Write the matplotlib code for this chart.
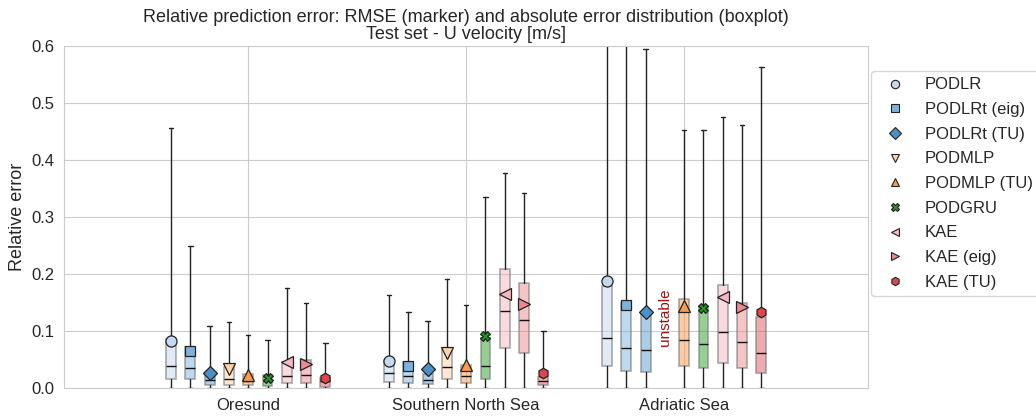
import matplotlib
matplotlib.use("Agg")
import matplotlib.pyplot as plt
from matplotlib.lines import Line2D
import seaborn as sns
import numpy as np

sns.set_style("whitegrid")
plt.rcParams['font.family'] = ['Liberation Sans', 'DejaVu Sans']

regions = ["Oresund", "Southern North Sea", "Adriatic Sea"]
models = ["PODLR", "PODLRt (eig)", "PODLRt (TU)", "PODMLP", "PODMLP (TU)",
          "PODGRU", "KAE", "KAE (eig)", "KAE (TU)"]
markers = ["o", "s", "D", "v", "^", "X", "<", ">", "h"]
marker_sizes = [8, 7.5, 7, 8, 8, 7, 8, 8, 7.5]
marker_colors = ["#c2d9ee", "#7eb2dc", "#4a8fc8", "#fdd3a8", "#fc9a4c",
                 "#1f9a1f", "#f4b7c0", "#ea8a90", "#df454c"]
box_colors = ["#c2d9ee", "#7eb2dc", "#5b9ccf", "#fdd3a8", "#fc9a4c",
              "#2ea02e", "#f4b7c0", "#ea8a90", "#df5a60"]

# per model: [Oresund, Southern North Sea, Adriatic Sea]; None = no result
whis_lo = [[0, 0, 0], [0, 0, 0], [0, 0, 0], [0, 0, None], [0, 0, 0],
           [0, 0, 0], [0, 0, 0], [0, 0, 0], [0, 0, 0]]
q1 = [[0.015, 0.011, 0.038], [0.015, 0.008, 0.030], [0.006, 0.007, 0.028],
      [0.006, 0.015, None], [0.005, 0.008, 0.038], [0.004, 0.015, 0.035],
      [0.008, 0.070, 0.043], [0.009, 0.061, 0.035], [0.002, 0.005, 0.026]]
med = [[0.038, 0.026, 0.087], [0.035, 0.021, 0.070], [0.014, 0.014, 0.066],
       [0.015, 0.036, None], [0.013, 0.021, 0.085], [0.012, 0.039, 0.078],
       [0.021, 0.136, 0.098], [0.022, 0.119, 0.080], [0.012, 0.013, 0.061]]
q3 = [[0.086, 0.050, 0.179], [0.072, 0.045, 0.150], [0.024, 0.025, 0.130],
      [0.037, 0.068, None], [0.025, 0.040, 0.157], [0.022, 0.088, 0.144],
      [0.045, 0.209, 0.180], [0.049, 0.185, 0.149], [0.017, 0.020, 0.125]]
whis_hi = [[0.457, 0.164, 0.75], [0.250, 0.133, 0.75], [0.108, 0.117, 0.595],
           [0.115, 0.192, None], [0.093, 0.146, 0.452], [0.085, 0.336, 0.453],
           [0.176, 0.377, 0.476], [0.150, 0.343, 0.462], [0.079, 0.100, 0.563]]
rmse = [[0.082, 0.048, 0.188], [0.065, 0.039, 0.146], [0.027, 0.033, 0.134],
        [0.033, 0.061, None], [0.023, 0.040, 0.144], [0.018, 0.092, 0.141],
        [0.045, 0.165, 0.159], [0.042, 0.148, 0.143], [0.018, 0.027, 0.133]]

yticks = [0.0, 0.1, 0.2, 0.3, 0.4, 0.5, 0.6]

fig = plt.figure(figsize=(10.36, 4.2), dpi=100)
ax = fig.add_axes([0.062, 0.0762, 0.776, 0.814])

step = 0.0885
bw = 0.045
nm = len(models)
for i, m in enumerate(models):
    for j, r in enumerate(regions):
        pos = j + (i - (nm - 1) / 2) * step
        if med[i][j] is None:
            ax.text(pos, 0.125, "unstable", rotation=90, color="#a01010",
                    ha="center", va="center", fontsize=11)
            continue
        st = dict(whislo=whis_lo[i][j], q1=q1[i][j], med=med[i][j],
                  q3=q3[i][j], whishi=whis_hi[i][j], fliers=[])
        ax.bxp([st], positions=[pos], widths=bw, capwidths=bw * 0.45,
               patch_artist=True, showfliers=False,
               boxprops=dict(facecolor=matplotlib.colors.to_rgba(box_colors[i], 0.5),
                             edgecolor=(0.45, 0.45, 0.45, 0.6), linewidth=1.2),
               whiskerprops=dict(color="#222222", linewidth=1.0),
               capprops=dict(color="#222222", linewidth=1.0),
               medianprops=dict(color="#111111", linewidth=1.0),
               manage_ticks=False, zorder=2)
        ax.plot([pos], [rmse[i][j]], marker=markers[i], markersize=marker_sizes[i],
                markerfacecolor=marker_colors[i], markeredgecolor="#222222",
                markeredgewidth=0.9, linestyle="none", zorder=4)

ax.set_xlim(-0.844, 2.844)
ax.set_ylim(0, 0.6)
ax.set_xticks(range(len(regions)))
ax.set_xticklabels(regions, fontsize=12)
ax.set_yticks(yticks)
ax.set_yticklabels([f"{v:.1f}" for v in yticks], fontsize=12)
ax.set_ylabel("Relative error", fontsize=13)
ax.set_title("Relative prediction error: RMSE (marker) and absolute error distribution (boxplot)\n"
             "Test set - U velocity [m/s]", fontsize=13, linespacing=1.05, pad=5)

handles = [Line2D([], [], marker=markers[i], linestyle="none", markersize=6,
                  markerfacecolor=marker_colors[i], markeredgecolor="#222222",
                  markeredgewidth=0.8, label=models[i]) for i in range(nm)]
ax.legend(handles=handles, loc="upper left", bbox_to_anchor=(1.004, 0.928),
          fontsize=12, frameon=True, borderaxespad=0.0, handletextpad=0.8,
          labelspacing=0.58)

fig.savefig("out.png", dpi=100)
